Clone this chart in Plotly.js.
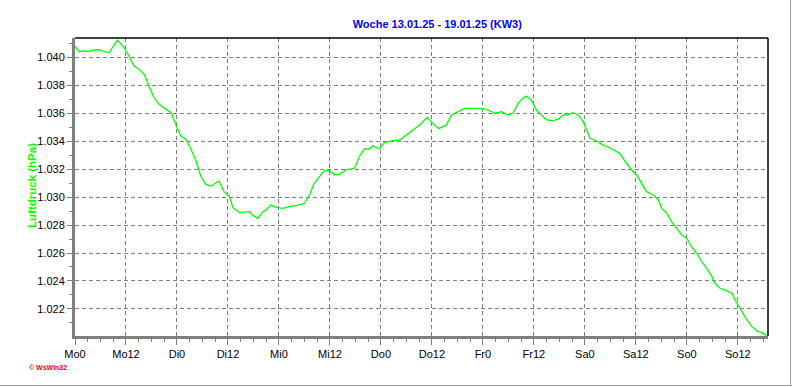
<!DOCTYPE html>
<html>
<head>
<meta charset="utf-8">
<script src="https://cdn.plot.ly/plotly-3.0.1.min.js"></script>
<style>html,body{margin:0;padding:0;background:#fff;}#chart{width:792px;height:387px;}</style>
</head>
<body>
<div id="chart"></div>
<script>
// hours since Monday 00:00
const hours = [0.0,0.9,2.1,3.3,4.5,5.7,6.8,8.0,10.0,11.6,12.7,13.9,15.1,16.3,17.4,18.6,19.8,21.8,22.6,23.7,24.9,26.1,27.3,28.5,29.6,30.8,32.0,33.2,33.9,35.1,36.3,37.2,38.7,41.0,41.8,43.0,44.2,45.0,46.1,47.3,48.9,50.4,52.0,54.0,55.2,56.3,57.5,58.7,59.9,61.1,62.2,63.8,65.8,66.9,68.1,69.3,70.1,71.7,72.8,74.8,76.4,78.0,79.5,81.1,82.9,84.2,85.6,87.4,88.6,90.1,91.7,93.3,94.8,96.0,97.6,98.8,100.4,101.9,103.1,104.3,105.4,106.2,107.4,108.6,109.8,111.0,112.5,113.7,114.9,116.1,117.2,118.4,119.6,120.4,121.2,122.7,124.3,125.9,128.2,129.8,131.0,132.2,133.4,134.5,136.1,137.3,138.1,139.3,140.4,141.6,142.8,144.0,145.1,146.3,147.5,148.7,149.9,150.6,151.8,153.4,154.6,155.8,156.9,158.1,159.3,160.5,161.6,163.0];
const pressure = [1.04079,1.04038,1.04043,1.0404,1.0405,1.0405,1.0404,1.0403,1.04121,1.04066,1.04007,1.03936,1.03912,1.03876,1.03793,1.03709,1.03662,1.03621,1.03602,1.03519,1.03436,1.03412,1.03341,1.03257,1.0315,1.0309,1.03079,1.03102,1.03114,1.03036,1.03007,1.02924,1.02888,1.02895,1.02871,1.02848,1.02895,1.02907,1.02943,1.02926,1.02919,1.02931,1.02938,1.02955,1.03014,1.03098,1.03145,1.03188,1.03188,1.03157,1.03162,1.03193,1.03205,1.03288,1.03343,1.03343,1.03366,1.03343,1.03388,1.03402,1.03407,1.03443,1.03479,1.03514,1.03569,1.03526,1.0349,1.03514,1.03586,1.03609,1.03633,1.03633,1.03633,1.03633,1.03616,1.03598,1.03609,1.03586,1.03598,1.03669,1.03705,1.03721,1.03693,1.03621,1.03586,1.0355,1.03545,1.03555,1.03586,1.03586,1.03602,1.03586,1.03538,1.03479,1.03419,1.03402,1.03371,1.03352,1.03312,1.03241,1.03193,1.03157,1.03098,1.03038,1.03014,1.02979,1.02919,1.02883,1.02824,1.02776,1.02729,1.02705,1.02645,1.02598,1.02538,1.02491,1.02431,1.02383,1.02348,1.02331,1.02312,1.02241,1.02181,1.02126,1.02074,1.02043,1.02031,1.02007];
const xTickVals = [0,12,24,36,48,60,72,84,96,108,120,132,144,156];
const xTickText = ["Mo0","Mo12","Di0","Di12","Mi0","Mi12","Do0","Do12","Fr0","Fr12","Sa0","Sa12","So0","So12"];
const titleText = "Woche 13.01.25 - 19.01.25 (KW3)";
const yTitleText = "Luftdruck (hPa)";
const creditText = "© WsWin32";

const L = 75, R = 768, T = 38, B = 336, W = 792, H = 387;
const px = x => (x - L) / (R - L);
const py = y => (B - y) / (B - T);

const trace = {
  x: hours, y: pressure, type: 'scatter', mode: 'lines',
  line: {color: '#00ff00', width: 1.3},
  hoverinfo: 'skip'
};

const layout = {
  width: W, height: H,
  margin: {l: L, r: W - R, t: T, b: H - B, pad: 0},
  paper_bgcolor: '#ffffff', plot_bgcolor: '#ffffff',
  showlegend: false,
  font: {family: 'Liberation Sans, Arial, sans-serif', size: 11, color: '#000'},
  title: {
    text: '<b>' + titleText + '</b>',
    font: {family: 'Liberation Sans, Arial, sans-serif', size: 11, color: '#0000ff'},
    x: 414 / W, xanchor: 'center', xref: 'paper',
    y: 1 - 24 / H, yanchor: 'middle', yref: 'container'
  },
  xaxis: {
    range: [0, 163.1], fixedrange: true,
    tickmode: 'array', tickvals: xTickVals, ticktext: xTickText,
    ticks: 'outside', ticklen: 6, tickcolor: '#808080', tickwidth: 1,
    showline: true, linecolor: '#808080', linewidth: 3,
    showgrid: true, gridcolor: '#808080', gridwidth: 1, griddash: '4px,3px',
    zeroline: false,
    tickfont: {size: 11, color: '#000'},
    minor: {dtick: 3, tick0: 0, ticks: 'outside', ticklen: 3, tickcolor: '#808080', showgrid: false}
  },
  yaxis: {
    range: [1.020071, 1.041357], fixedrange: true,
    tick0: 1.020, dtick: 0.002, tickformat: '.3f',
    ticks: 'outside', ticklen: 5, tickcolor: '#808080', tickwidth: 1,
    showline: true, linecolor: '#808080', linewidth: 3,
    showgrid: true, gridcolor: '#808080', gridwidth: 1, griddash: '4px,3px',
    zeroline: false,
    tickfont: {size: 11, color: '#000'},
    minor: {dtick: 0.001, tick0: 1.020, ticks: 'outside', ticklen: 3, tickcolor: '#808080', showgrid: false}
  },
  shapes: [
    {type: 'line', xref: 'paper', yref: 'paper', x0: 0, x1: 1, y0: 1, y1: 1, line: {color: '#000', width: 1.5}},
    {type: 'line', xref: 'paper', yref: 'paper', x0: 1, x1: 1, y0: 0, y1: 1, line: {color: '#000', width: 1.5}},
    {type: 'line', xref: 'paper', yref: 'paper', x0: px(0), x1: px(792), y0: py(385.5), y1: py(385.5), line: {color: '#a0a0a0', width: 1}},
    {type: 'line', xref: 'paper', yref: 'paper', x0: px(790.5), x1: px(790.5), y0: py(0), y1: py(386), line: {color: '#a0a0a0', width: 1}}
  ],
  annotations: [
    {text: '<b>' + yTitleText + '</b>', textangle: -90, xref: 'paper', yref: 'paper',
     x: px(32), y: py(186), xanchor: 'center', yanchor: 'middle', showarrow: false,
     font: {family: 'Liberation Sans, Arial, sans-serif', size: 11.5, color: '#00ff00'}},
    {text: '<b>' + creditText + '</b>', xref: 'paper', yref: 'paper',
     x: px(27), y: py(367), xanchor: 'left', yanchor: 'middle', showarrow: false,
     font: {family: 'Liberation Sans, Arial, sans-serif', size: 7, color: '#ff0000'}}
  ]
};

Plotly.newPlot('chart', [trace], layout, {staticPlot: true, displayModeBar: false});
</script>
</body>
</html>
